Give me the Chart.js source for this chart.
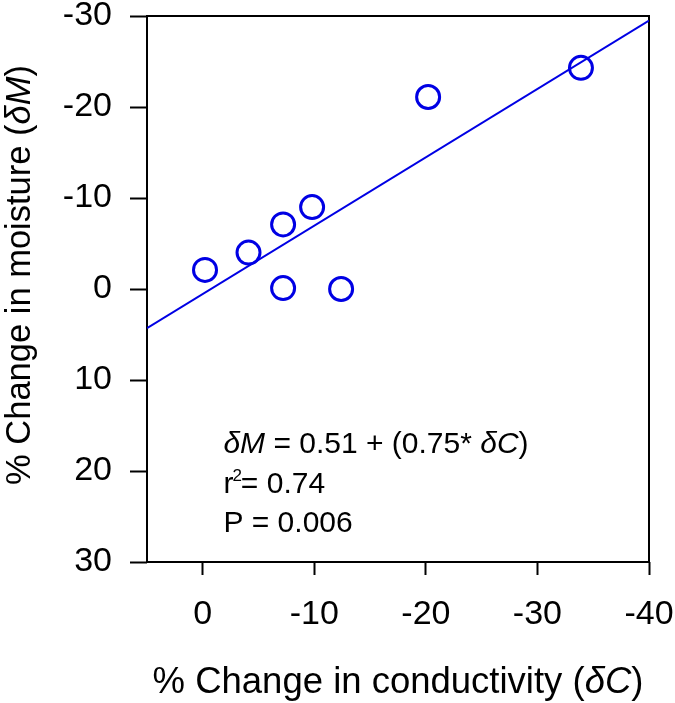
<!DOCTYPE html>
<html><head><meta charset="utf-8">
<script src="https://cdn.jsdelivr.net/npm/chart.js@4"></script>
<style>html,body{margin:0;padding:0;background:#fff}#wrap{width:675px;height:703px}</style>
</head><body><div id="wrap"><canvas id="c" width="675" height="703"></canvas></div>
<script>
// Data
const conductivityChange = [-0.2, -4.1, -7.2, -9.8, -7.2, -12.4, -20.2, -33.9];
const moistureChange     = [-2.1, -4.0, -7.1, -9.0, -0.1,  0.0, -21.1, -24.3];
const fitLineX = [5, -40];
const fitLineY = [4.3, -29.5];
const xTickValues = [0, -10, -20, -30, -40];
const yTickValues = [-30, -20, -10, 0, 10, 20, 30];
const xTitleParts = [['% Change in conductivity (', false], ['\u03B4C', true], [')', false]];
const yTitleParts = [['% Change in moisture (', false], ['\u03B4M', true], [')', false]];

const FAM = "'Liberation Sans', Arial, Helvetica, sans-serif";
const BLUE = '#0000e4';

function drawParts(ctx, parts, size, x, y, centered) {
  const f = it => (it ? 'italic ' : '') + size + 'px ' + FAM;
  let total = 0;
  for (const [t, it] of parts) { ctx.font = f(it); total += ctx.measureText(t).width; }
  let cx = centered ? x - total / 2 : x;
  for (const [t, it] of parts) { ctx.font = f(it); ctx.fillText(t, cx, y); cx += ctx.measureText(t).width; }
}

const boxPlugin = {
  id: 'box',
  beforeDatasetsDraw(chart) {
    const a = chart.chartArea, ctx = chart.ctx;
    ctx.save();
    ctx.strokeStyle = '#000';
    ctx.lineWidth = 2;
    ctx.strokeRect(a.left, a.top, a.right - a.left, a.bottom - a.top);
    ctx.restore();
  }
};

const titlePlugin = {
  id: 'titles',
  afterDraw(chart) {
    const ctx = chart.ctx, a = chart.chartArea;
    ctx.save();
    ctx.fillStyle = '#000';
    ctx.textAlign = 'left';
    ctx.textBaseline = 'alphabetic';
    drawParts(ctx, xTitleParts, 36.5, (a.left + a.right) / 2, a.bottom + 131, true);
    ctx.translate(a.left - 117, (a.top + a.bottom) / 2 - 14);
    ctx.rotate(-Math.PI / 2);
    drawParts(ctx, yTitleParts, 34.5, 0, 0, true);
    ctx.restore();
  }
};

const annotationPlugin = {
  id: 'annot',
  afterDatasetsDraw(chart) {
    const ctx = chart.ctx;
    const xs = chart.scales.x, ys = chart.scales.y;
    const x0 = xs.getPixelForValue(-1.85);
    const y0 = ys.getPixelForValue(18.05);
    const lh = 39.5;
    const size = 30;
    const normal = size + 'px ' + FAM;
    ctx.save();
    ctx.fillStyle = '#000';
    ctx.textBaseline = 'alphabetic';
    ctx.textAlign = 'left';
    drawParts(ctx, [['\u03B4M', true], [' = 0.51 + (0.75* ', false], ['\u03B4C', true], [')', false]], size, x0, y0, false);
    let x = x0;
    ctx.font = normal; ctx.fillText('r', x, y0 + lh); x += ctx.measureText('r').width;
    ctx.font = '17px ' + FAM; ctx.fillText('2', x - 1, y0 + lh - 12); x += ctx.measureText('2').width - 2;
    ctx.font = normal; ctx.fillText('= 0.74', x, y0 + lh);
    ctx.fillText('P = 0.006', x0, y0 + 2 * lh);
    ctx.restore();
  }
};

new Chart(document.getElementById('c'), {
  data: {
    datasets: [
      {
        type: 'line',
        data: fitLineX.map((v, i) => ({x: v, y: fitLineY[i]})),
        borderColor: BLUE, borderWidth: 2, pointRadius: 0, fill: false, tension: 0
      },
      {
        type: 'scatter',
        data: conductivityChange.map((v, i) => ({x: v, y: moistureChange[i]})),
        borderColor: BLUE, backgroundColor: 'rgba(0,0,0,0)',
        pointRadius: 11.5, borderWidth: 3, pointStyle: 'circle'
      }
    ]
  },
  options: {
    responsive: false, animation: false, devicePixelRatio: 1,
    layout: {padding: {top: 16, right: 26, left: 0, bottom: 0}},
    plugins: {legend: {display: false}, tooltip: {enabled: false}},
    scales: {
      x: {
        type: 'linear', min: -40, max: 5, reverse: true, position: 'bottom',
        afterBuildTicks: s => { s.ticks = xTickValues.map(v => ({value: v})); },
        afterFit: s => { s.height = 141; s.paddingLeft = 0; s.paddingRight = 0; },
        grid: {display: true, drawOnChartArea: false, drawTicks: true, tickLength: 13, tickWidth: 2, tickColor: '#000'},
        border: {display: false},
        ticks: {color: '#000', font: {family: FAM, size: 34}, padding: 19, maxRotation: 0, autoSkip: false,
                callback: v => String(v)},
        title: {display: false}
      },
      y: {
        type: 'linear', min: -30, max: 30, reverse: true, position: 'left',
        afterBuildTicks: s => { s.ticks = yTickValues.map(v => ({value: v})); },
        afterFit: s => { s.width = 147; s.paddingTop = 0; s.paddingBottom = 0; },
        grid: {display: true, drawOnChartArea: false, drawTicks: true, tickLength: 17, tickWidth: 2, tickColor: '#000'},
        border: {display: false},
        ticks: {color: '#000', font: {family: FAM, size: 34}, padding: 18, autoSkip: false,
                callback: v => String(v)},
        title: {display: false}
      }
    }
  },
  plugins: [boxPlugin, titlePlugin, annotationPlugin]
});
</script>
</body></html>
